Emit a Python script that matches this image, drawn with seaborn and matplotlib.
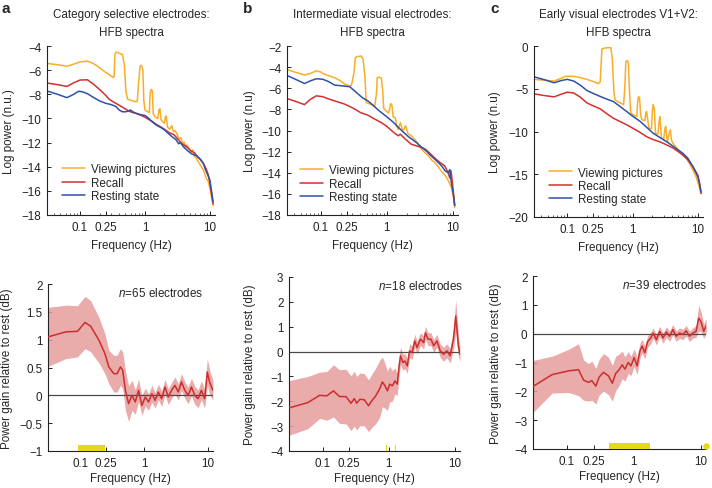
import matplotlib
matplotlib.use("Agg")
import matplotlib.pyplot as plt
import seaborn as sns
import pandas as pd
import numpy as np
from matplotlib.ticker import NullLocator, NullFormatter, FixedLocator

# ---------------- data ----------------
conditions = ["Viewing pictures", "Recall", "Resting state"]
freq_ticks = [0.1, 0.25, 1, 10]
freq_tick_labels = ["0.1", "0.25", "1", "10"]

# panel a, HFB spectra (log power)
fa_view = [0.032, 0.045, 0.063, 0.08, 0.1, 0.13, 0.16, 0.2, 0.25, 0.28, 0.32, 0.335, 0.345, 0.36, 0.40, 0.45,
           0.48, 0.51, 0.54, 0.6, 0.7, 0.76, 0.8, 0.84, 0.88, 0.93, 0.96, 1.0, 1.1, 1.17, 1.2, 1.24, 1.3, 1.34,
           1.45, 1.58, 1.64, 1.7, 1.77, 1.9, 2.0, 2.08, 2.14, 2.22, 2.4, 2.6, 2.75, 2.9, 3.15, 3.3, 3.6, 3.8,
           4.0, 4.2, 4.4, 4.8, 5.2, 5.5, 5.7, 6.2, 6.8, 7.4, 8.0, 8.7, 9.4, 10.0, 10.6, 11.2]
va_view = [-5.45, -5.55, -5.68, -5.5, -5.32, -5.25, -5.45, -5.8, -6.2, -6.35, -6.6, -6.55, -4.7, -4.5, -4.6, -4.7,
           -5.5, -7.8, -8.4, -8.5, -8.6, -8.6, -7.0, -5.7, -5.6, -6.0, -8.5, -9.3, -9.45, -9.5, -8.0, -7.6, -7.7,
           -9.6, -9.9, -10.0, -9.3, -9.2, -10.1, -10.3, -10.4, -9.8, -9.85, -10.7, -10.9, -10.6, -11.1, -11.0,
           -11.3, -11.7, -11.6, -12.1, -11.95, -12.4, -12.2, -12.5, -12.8, -12.6, -13.1, -13.3, -13.7, -14.0,
           -14.3, -14.9, -15.2, -15.8, -16.5, -17.2]
fa_rec = [0.032, 0.045, 0.063, 0.08, 0.1, 0.13, 0.16, 0.2, 0.25, 0.28, 0.33, 0.4, 0.46, 0.55, 0.63, 0.75, 0.87,
          1.0, 1.15, 1.3, 1.5, 1.75, 2.0, 2.4, 2.8, 3.2, 3.7, 4.3, 5.0, 5.8, 6.5, 7.2, 8.0, 8.8, 9.5, 10.2, 10.8, 11.2]
va_rec = [-7.08, -7.2, -7.35, -7.05, -6.82, -6.8, -7.15, -7.6, -8.1, -8.4, -8.65, -8.9, -9.1, -9.35, -9.5, -9.6,
          -9.75, -9.9, -10.1, -10.25, -10.5, -10.7, -10.9, -11.2, -11.35, -11.7, -12.1, -12.3, -12.65, -12.85,
          -13.2, -13.4, -13.75, -14.2, -14.7, -15.6, -16.5, -17.1]
fa_rest = [0.032, 0.045, 0.063, 0.08, 0.095, 0.11, 0.13, 0.16, 0.2, 0.25, 0.3, 0.355, 0.4, 0.45, 0.5, 0.55, 0.6,
           0.65, 0.75, 0.87, 1.0, 1.15, 1.3, 1.5, 1.75, 2.0, 2.3, 2.66, 3.0, 3.3, 3.5, 4.0, 4.6, 5.3, 6.3, 7.0,
           7.9, 8.5, 9.3, 10.0, 10.6, 11.2]
va_rest = [-7.75, -8.0, -8.28, -8.0, -7.75, -7.8, -7.95, -8.25, -8.55, -8.75, -8.85, -9.0, -9.3, -9.45, -9.45,
           -9.4, -9.3, -9.45, -9.6, -9.7, -9.75, -10.0, -10.3, -10.55, -10.75, -10.95, -11.25, -11.55, -11.75,
           -12.1, -12.0, -12.4, -12.7, -12.95, -13.1, -13.35, -13.7, -14.2, -14.7, -15.1, -16.0, -16.9]

# panel b
fb_view = [0.03, 0.04, 0.057, 0.07, 0.086, 0.1, 0.108, 0.13, 0.163, 0.2, 0.231, 0.275, 0.29, 0.30, 0.32, 0.335,
           0.36, 0.413, 0.44, 0.47, 0.49, 0.56, 0.66, 0.70, 0.72, 0.78, 0.83, 0.87, 0.90, 1.0, 1.07, 1.12, 1.15,
           1.2, 1.25, 1.35, 1.42, 1.49, 1.56, 1.61, 1.67, 1.73, 1.82, 1.92, 2.0, 2.1, 2.36, 2.7, 3.0, 3.35, 3.8,
           4.3, 4.8, 5.33, 6.0, 6.8, 7.57, 8.5, 9.5, 10.2, 10.7]
vb_view = [-4.2, -4.45, -4.75, -4.6, -4.35, -4.45, -4.6, -4.8, -5.0, -5.3, -5.6, -5.8, -5.75, -5.45, -4.5, -3.1,
           -3.0, -2.95, -3.3, -5.0, -7.35, -7.5, -7.7, -6.5, -5.0, -4.95, -5.05, -6.2, -7.9, -8.2, -8.35, -7.8,
           -7.45, -7.6, -8.7, -8.8, -9.6, -9.9, -9.5, -9.25, -9.6, -10.0, -9.9, -9.55, -9.8, -10.3, -10.5, -10.9,
           -11.3, -11.75, -12.1, -12.4, -12.8, -13.0, -13.4, -13.9, -14.2, -14.7, -15.4, -16.3, -17.3]
fb_rec = [0.03, 0.04, 0.057, 0.07, 0.086, 0.108, 0.13, 0.163, 0.231, 0.28, 0.335, 0.4, 0.52, 0.65, 0.83, 1.0,
          1.18, 1.35, 1.5, 1.6, 1.7, 1.9, 2.36, 2.8, 3.35, 3.8, 4.4, 5.33, 6.3, 7.57, 8.5, 9.0, 9.4, 10.0, 10.7]
vb_rec = [-6.95, -7.2, -7.55, -7.05, -6.72, -6.8, -7.0, -7.2, -7.5, -7.75, -8.0, -8.3, -8.55, -8.9, -9.25, -9.6,
          -10.0, -10.3, -10.5, -10.35, -10.5, -10.8, -11.3, -11.45, -11.6, -11.75, -12.1, -12.6, -13.0, -13.35,
          -14.0, -14.5, -13.8, -15.3, -17.1]
fb_rest = [0.03, 0.04, 0.057, 0.07, 0.086, 0.108, 0.13, 0.163, 0.231, 0.275, 0.32, 0.37, 0.43, 0.52, 0.62, 0.74,
           0.87, 1.05, 1.25, 1.5, 1.75, 2.1, 2.5, 2.9, 3.4, 4.0, 4.6, 5.33, 6.2, 7.0, 7.6, 8.5, 9.0, 9.5, 10.2, 10.7]
vb_rest = [-4.75, -5.1, -5.55, -5.3, -5.1, -5.15, -5.35, -5.7, -5.8, -5.85, -6.2, -6.55, -6.9, -7.2, -7.6, -8.05,
           -8.4, -8.8, -9.2, -9.7, -10.1, -10.55, -10.9, -11.2, -11.6, -11.95, -12.35, -12.7, -13.1, -13.45, -13.8,
           -14.0, -13.7, -14.9, -16.0, -17.1]

# panel c
fc_view = [0.031, 0.045, 0.063, 0.08, 0.094, 0.126, 0.16, 0.2, 0.25, 0.30, 0.32, 0.34, 0.37, 0.42, 0.466, 0.49,
           0.52, 0.54, 0.62, 0.73, 0.76, 0.79, 0.83, 0.865, 0.9, 0.94, 1.05, 1.16, 1.20, 1.23, 1.28, 1.33, 1.38,
           1.55, 1.6, 1.64, 1.7, 1.78, 1.95, 2.02, 2.07, 2.15, 2.25, 2.45, 2.57, 2.62, 2.7, 2.77, 3.0, 3.15, 3.23,
           3.35, 3.42, 3.65, 3.8, 3.95, 4.17, 4.6, 5.25, 5.9, 6.65, 7.5, 8.4, 9.3, 10.0, 10.6, 11.2]
vc_view = [-3.9, -4.0, -4.1, -3.8, -3.55, -3.55, -3.7, -3.9, -4.15, -4.4, -4.2, -0.35, -0.25, -0.2, -0.2, -1.5,
           -5.5, -6.3, -6.6, -6.85, -5.0, -1.8, -1.7, -2.0, -5.5, -7.85, -8.1, -8.25, -6.5, -5.95, -6.0, -8.0,
           -8.6, -8.75, -7.8, -7.65, -8.5, -9.6, -9.7, -7.5, -6.85, -7.3, -10.2, -10.3, -8.6, -8.25, -9.5, -10.8,
           -10.9, -9.6, -9.4, -10.7, -11.2, -10.2, -9.8, -11.0, -11.4, -11.8, -12.35, -12.8, -13.1, -13.8, -14.5,
           -15.2, -15.9, -16.6, -17.25]
fc_rec = [0.031, 0.045, 0.063, 0.08, 0.1, 0.126, 0.16, 0.2, 0.25, 0.32, 0.4, 0.51, 0.65, 0.81, 1.0, 1.3, 1.64,
          2.0, 2.6, 3.3, 4.2, 5.0, 5.9, 7.0, 8.4, 10.0, 10.6, 11.2]
vc_rec = [-5.6, -5.8, -5.95, -5.65, -5.4, -5.5, -6.0, -6.65, -7.0, -7.35, -7.9, -8.45, -8.85, -9.2, -9.6, -10.1,
          -10.6, -10.9, -11.2, -11.55, -11.95, -12.35, -12.75, -13.3, -14.1, -15.1, -16.0, -17.25]
fc_rest = [0.031, 0.045, 0.063, 0.08, 0.1, 0.126, 0.16, 0.2, 0.25, 0.32, 0.4, 0.51, 0.65, 0.81, 1.0, 1.3, 1.64,
           2.07, 2.5, 2.9, 3.5, 4.2, 5.0, 5.9, 7.0, 8.4, 10.0, 10.6, 11.2]
vc_rest = [-3.6, -3.95, -4.3, -4.05, -3.9, -4.1, -4.6, -5.2, -5.55, -5.9, -6.2, -6.5, -7.1, -7.65, -8.2, -8.8,
           -9.5, -10.2, -10.6, -10.9, -11.3, -11.75, -12.15, -12.55, -13.1, -14.1, -15.3, -16.1, -17.05]

# power gain relative to rest (dB): mean and sem
ga_freq = [0.031, 0.059, 0.09, 0.118, 0.145, 0.195, 0.242, 0.279, 0.333, 0.376, 0.424, 0.46, 0.507, 0.57, 0.643,
           0.724, 0.816, 0.92, 1.04, 1.17, 1.32, 1.48, 1.67, 1.88, 2.12, 2.39, 2.69, 3.03, 3.42, 3.85, 4.34, 4.89,
           5.51, 6.21, 7.0, 7.88, 8.88, 9.77, 10.6, 11.97]
ga_mean = [1.05, 1.14, 1.15, 1.31, 1.24, 0.99, 0.75, 0.51, 0.39, 0.39, 0.51, 0.45, 0.09, -0.15, 0.0, -0.12, 0.09,
           -0.18, -0.03, -0.12, 0.03, -0.09, 0.06, -0.06, 0.15, -0.03, 0.09, 0.18, 0.06, 0.24, 0.09, 0.0, 0.15,
           0.0, -0.06, 0.09, -0.06, 0.42, 0.24, 0.09]
ga_sem = [0.53, 0.48, 0.46, 0.47, 0.46, 0.41, 0.36, 0.30, 0.33, 0.33, 0.33, 0.33, 0.36, 0.32, 0.27, 0.22, 0.20,
          0.18, 0.16, 0.15, 0.15, 0.14, 0.14, 0.14, 0.14, 0.14, 0.14, 0.15, 0.15, 0.15, 0.15, 0.15, 0.16, 0.16,
          0.16, 0.17, 0.17, 0.24, 0.22, 0.18]

gb_freq = [0.030, 0.060, 0.090, 0.116, 0.146, 0.18, 0.226, 0.269, 0.302, 0.327, 0.367, 0.427, 0.495, 0.569, 0.638,
           0.733, 0.803, 0.881, 0.955, 1.035, 1.135, 1.245, 1.35, 1.43, 1.51, 1.64, 1.76, 1.91, 2.07, 2.26, 2.48,
           2.69, 3.02, 3.39, 3.59, 3.94, 4.37, 4.79, 5.37, 6.03, 6.76, 7.59, 8.51, 9.55, 10.35, 11.35, 12.0]
gb_mean = [-2.28, -2.05, -1.76, -1.78, -1.58, -1.81, -1.81, -2.08, -1.89, -2.08, -1.92, -1.94, -2.18, -1.94, -1.78,
           -1.49, -1.22, -1.38, -1.58, -1.31, -1.38, -1.18, -1.31, -0.64, -0.17, -0.44, -0.38, -0.58, 0.03, -0.04,
           0.43, 0.16, 0.50, 0.36, 0.76, 0.50, 0.50, 0.23, 0.43, 0.03, -0.11, 0.03, -0.17, 0.50, 1.43, 0.23, -0.11]
gb_sem = [1.1, 1.05, 0.93, 0.98, 1.05, 1.08, 1.1, 1.1, 1.1, 1.08, 1.06, 1.05, 1.04, 1.08, 1.12, 1.15, 1.0, 0.9,
          0.8, 0.72, 0.62, 0.52, 0.45, 0.4, 0.35, 0.32, 0.3, 0.3, 0.28, 0.27, 0.27, 0.26, 0.26, 0.26, 0.26, 0.26,
          0.26, 0.26, 0.26, 0.27, 0.28, 0.28, 0.3, 0.4, 0.65, 0.4, 0.3]

gc_freq = [0.031, 0.060, 0.106, 0.149, 0.177, 0.21, 0.235, 0.27, 0.302, 0.35, 0.416, 0.477, 0.535, 0.598, 0.671,
           0.735, 0.824, 0.902, 1.01, 1.12, 1.23, 1.33, 1.46, 1.6, 1.79, 1.94, 2.17, 2.43, 2.73, 3.06, 3.42, 3.84,
           4.3, 4.82, 5.41, 6.06, 6.79, 7.61, 8.53, 9.34, 10.1, 11.1, 12.1]
gc_mean = [-1.83, -1.42, -1.29, -1.25, -1.61, -1.69, -1.63, -1.82, -1.51, -1.34, -1.46, -1.72, -1.38, -1.26, -1.08,
           -1.23, -1.00, -1.12, -0.83, -1.12, -0.60, -0.43, -0.66, -0.28, -0.15, 0.02, -0.21, 0.08, -0.15, 0.06,
           -0.09, 0.14, -0.09, 0.02, -0.03, 0.10, -0.09, 0.02, 0.08, 0.54, 0.42, 0.08, 0.28]
gc_sem = [0.9, 0.64, 0.75, 0.9, 0.7, 0.65, 0.68, 0.62, 0.62, 0.65, 0.65, 0.62, 0.6, 0.55, 0.48, 0.42, 0.38, 0.34,
          0.3, 0.3, 0.26, 0.24, 0.22, 0.2, 0.2, 0.18, 0.18, 0.18, 0.18, 0.18, 0.18, 0.18, 0.18, 0.18, 0.18, 0.18,
          0.18, 0.18, 0.2, 0.45, 0.35, 0.25, 0.25]

# significant frequency ranges (yellow marks on the x axis)
sig_a = [(0.09, 0.24)]
sig_b = [(0.90, 0.95), (1.23, 1.27)]
sig_c = [(0.42, 1.77)]
sig_c_points = [11.9]

n_electrodes = [65, 18, 39]
panel_titles = ["Category selective electrodes:", "Intermediate visual electrodes:", "Early visual electrodes V1+V2:"]
spec_ylabels = ["Log power (n.u.)", "Log power (n.u)", "Log power (n.u)"]
spec_yticks = [list(range(-18, -3, 2)), list(range(-18, -1, 2)), list(range(-20, 1, 5))]
gain_yticks = [[-1, -0.5, 0, 0.5, 1, 1.5, 2], list(range(-4, 4)), list(range(-4, 3))]

# ---------------- style ----------------
sns.set_theme(style="ticks")
plt.rcParams["font.family"] = ["Liberation Sans", "DejaVu Sans"]
plt.rcParams.update({
    "mathtext.fontset": "custom",
    "mathtext.rm": "Liberation Sans",
    "mathtext.it": "Liberation Sans:italic",
    "axes.linewidth": 0.8,
    "axes.edgecolor": "#222222",
    "xtick.color": "#222222",
    "ytick.color": "#222222",
})
FS = 8.4
c_view, c_rec, c_rest = "#F9AE2A", "#D3302F", "#2F51A8"
c_band, c_mean, c_sig = "#E79C9C", "#CC2E2E", "#E6D81A"

W, H = 712, 489
fig = plt.figure(figsize=(W / 100, H / 100), dpi=100)


def px_box(l, t, r, b):
    return [l / W, 1 - b / H, (r - l) / W, (b - t) / H]


top_boxes = [(47, 47, 215, 216), (287, 47, 458, 216), (534, 47, 703, 218)]
bot_boxes = [(48, 285, 213, 452), (289, 278, 460, 452), (533, 277, 706, 450)]
top_ylabel_x = [9, 250, 495]
bot_ylabel_x = [7, 250, 496]
letters = [("a", 2), ("b", 243), ("c", 490)]
legend_anchor = [(0.089, 0.305), (0.076, 0.30), (0.089, 0.295)]
n_text_pos = [(0.94, 0.952), (1.02, 0.95), (1.006, 0.948)]

spectra = [
    [(fa_view, va_view), (fa_rec, va_rec), (fa_rest, va_rest)],
    [(fb_view, vb_view), (fb_rec, vb_rec), (fb_rest, vb_rest)],
    [(fc_view, vc_view), (fc_rec, vc_rec), (fc_rest, vc_rest)],
]
gains = [(ga_freq, ga_mean, ga_sem), (gb_freq, gb_mean, gb_sem), (gc_freq, gc_mean, gc_sem)]
sigs = [sig_a, sig_b, sig_c]


def style_freq_axis(ax, minor):
    ax.set_xscale("log")
    ax.set_xlim(0.031, 12)
    ax.xaxis.set_major_locator(FixedLocator(freq_ticks))
    ax.set_xticklabels(freq_tick_labels)
    if not minor:
        ax.xaxis.set_minor_locator(NullLocator())
    ax.xaxis.set_minor_formatter(NullFormatter())
    ax.tick_params(axis="both", which="major", direction="in", length=3, width=0.7, labelsize=FS)
    ax.tick_params(axis="x", which="major", pad=4.5)
    ax.tick_params(axis="y", which="major", pad=4)
    ax.tick_params(axis="x", which="minor", direction="in", length=1.6, width=0.5)
    sns.despine(ax=ax)


def place_labels(ax, box, ylabel_x, xlabel_gap):
    l, t, r, b = box
    ax.xaxis.set_label_coords(0.5, -xlabel_gap / (b - t))
    # y label anchor is its right edge; centre it on ylabel_x
    ax.yaxis.set_label_coords(-(l - ylabel_x - 6) / (r - l), 0.5)


for i in range(3):
    # ---- spectra ----
    ax = fig.add_axes(px_box(*top_boxes[i]))
    frames = []
    for cond, (f, v) in zip(conditions, spectra[i]):
        frames.append(pd.DataFrame({"freq": f, "power": v, "condition": cond}))
    df = pd.concat(frames, ignore_index=True)
    sns.lineplot(data=df, x="freq", y="power", hue="condition", hue_order=conditions,
                 palette=[c_view, c_rec, c_rest], estimator=None, sort=False, lw=1.1, ax=ax)
    style_freq_axis(ax, minor=True)
    yt = spec_yticks[i]
    ax.set_ylim(min(yt), max(yt))
    ax.set_yticks(yt)
    ax.set_xlabel("Frequency (Hz)", fontsize=FS)
    ax.set_ylabel(spec_ylabels[i], fontsize=FS)
    place_labels(ax, top_boxes[i], top_ylabel_x[i], 24)
    hpx = top_boxes[i][3] - top_boxes[i][1]
    handles, labels = ax.get_legend_handles_labels()
    ax.legend(handles, labels, loc="upper left", bbox_to_anchor=legend_anchor[i], frameon=False,
              fontsize=FS, handlelength=2.0, handletextpad=0.45, labelspacing=0.12,
              borderaxespad=0, borderpad=0)
    ax.text(0.5, 1 + 32 / hpx, panel_titles[i], transform=ax.transAxes, ha="center", va="center", fontsize=FS)
    ax.text(0.5, 1 + 14 / hpx, "HFB spectra", transform=ax.transAxes, ha="center", va="center", fontsize=FS)
    fig.text(letters[i][1] / W, 1 - 9 / H, letters[i][0], fontsize=11, fontweight="bold", ha="left", va="center")

    # ---- power gain ----
    ax2 = fig.add_axes(px_box(*bot_boxes[i]))
    f, m, s = gains[i]
    gdf = pd.DataFrame({"freq": f, "gain": m, "sem": s})
    ax2.fill_between(gdf["freq"], gdf["gain"] - gdf["sem"], gdf["gain"] + gdf["sem"],
                     color=c_band, alpha=0.85, lw=0, zorder=1)
    sns.lineplot(data=gdf, x="freq", y="gain", color=c_mean, estimator=None, sort=False, lw=1.1, ax=ax2, zorder=3)
    ax2.axhline(0, color="#4a4a4a", lw=0.9, zorder=2)
    style_freq_axis(ax2, minor=False)
    yt = gain_yticks[i]
    ax2.set_ylim(min(yt), max(yt))
    ax2.set_yticks(yt)
    ax2.set_yticklabels([f"{t:g}".replace("-", "\u2212") for t in yt])
    for lo, hi in sigs[i]:
        ax2.axvspan(lo, hi, ymin=0, ymax=0.036, color=c_sig, lw=0, zorder=4)
    if i == 2:
        ax2.scatter(sig_c_points, [min(yt) + 0.12] * len(sig_c_points), s=22, color=c_sig,
                    clip_on=False, zorder=5, linewidths=0)
    ax2.set_xlabel("Frequency (Hz)", fontsize=FS)
    ax2.set_ylabel("Power gain relative to rest (dB)", fontsize=FS)
    place_labels(ax2, bot_boxes[i], bot_ylabel_x[i], 21)
    tx, ty = n_text_pos[i]
    ax2.text(tx, ty, rf"$n\!=\!{n_electrodes[i]}$ electrodes", transform=ax2.transAxes,
             ha="right", va="center", fontsize=FS)

fig.savefig("out.png", dpi=100)
